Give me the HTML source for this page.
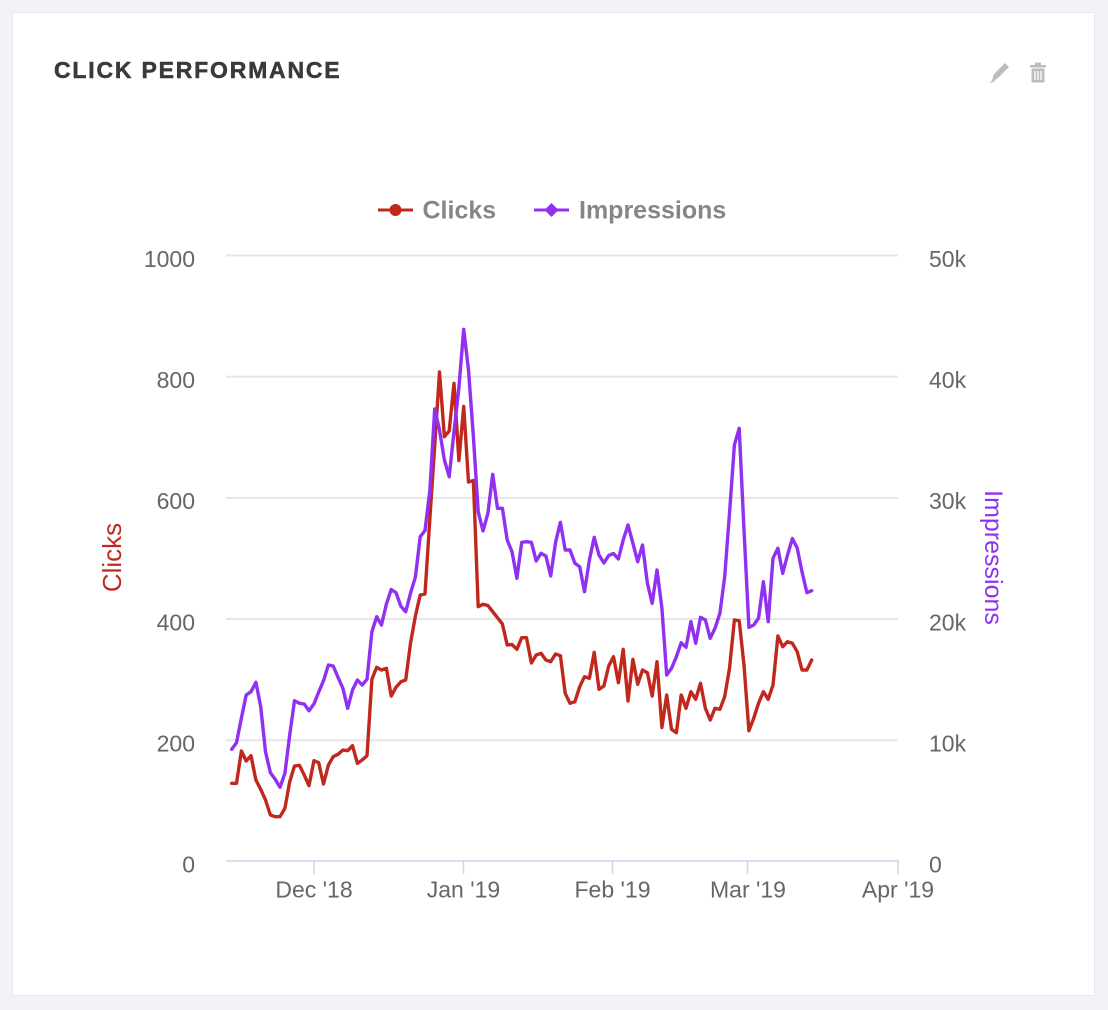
<!DOCTYPE html>
<html>
<head>
<meta charset="utf-8">
<style>
  html, body { margin:0; padding:0; }
  body { width:1108px; height:1010px; background:#f1f3f6; overflow:hidden; position:relative; }
  .card { position:absolute; left:12px; top:12px; width:1083px; height:984px; background:#fff; border:1px solid #e4e7eb; box-sizing:border-box; }
  svg { position:absolute; left:0; top:0; }
  text { font-family:"Liberation Sans", sans-serif; }
</style>
</head>
<body>
<div class="card"></div>
<svg width="1108" height="1010" viewBox="0 0 1108 1010" xmlns="http://www.w3.org/2000/svg">
  <!-- Title -->
  <text x="54" y="78" font-size="23" font-weight="bold" fill="#3a3a3a" stroke="#3a3a3a" stroke-width="0.5" letter-spacing="1.8">CLICK PERFORMANCE</text>

  <!-- pencil icon -->
  <g fill="#bdbdbd">
    <polygon points="992,80 994,74 1005,63 1009,67 998,78"/>
    <polygon points="990,83 992,80 998,78 993,82"/>
  </g>
  <!-- trash icon -->
  <g fill="#bdbdbd">
    <rect x="1030" y="65" width="16" height="2.5"/>
    <rect x="1035" y="62.5" width="6" height="3"/>
    <rect x="1031.5" y="68.5" width="13" height="14" rx="1"/>
  </g>
  <g stroke="#fff" stroke-width="1.3">
    <line x1="1035" y1="71" x2="1035" y2="80"/>
    <line x1="1038" y1="71" x2="1038" y2="80"/>
    <line x1="1041" y1="71" x2="1041" y2="80"/>
  </g>

  <!-- Legend -->
  <line x1="378" y1="210" x2="413" y2="210" stroke="#c0281e" stroke-width="3"/>
  <circle cx="395.5" cy="210" r="6" fill="#c0281e"/>
  <text x="422.5" y="218.3" font-size="25" font-weight="bold" fill="#868686">Clicks</text>
  <line x1="534" y1="210" x2="569" y2="210" stroke="#9030f0" stroke-width="3"/>
  <polygon points="551.5,203 558.5,210 551.5,217 544.5,210" fill="#9030f0"/>
  <text x="579" y="218.3" font-size="25" font-weight="bold" fill="#868686">Impressions</text>

  <!-- Gridlines -->
  <g stroke="#e6e6e6" stroke-width="2">
    <line x1="226" y1="255.5" x2="898" y2="255.5"/>
    <line x1="226" y1="376.7" x2="898" y2="376.7"/>
    <line x1="226" y1="497.9" x2="898" y2="497.9"/>
    <line x1="226" y1="619" x2="898" y2="619"/>
    <line x1="226" y1="740.2" x2="898" y2="740.2"/>
  </g>

  <!-- X axis -->
  <g stroke="#ccd6eb" stroke-width="1.5">
    <line x1="226" y1="861" x2="899" y2="861"/>
    <line x1="314" y1="861" x2="314" y2="874"/>
    <line x1="463.5" y1="861" x2="463.5" y2="874"/>
    <line x1="612.5" y1="861" x2="612.5" y2="874"/>
    <line x1="747.5" y1="861" x2="747.5" y2="874"/>
    <line x1="898" y1="861" x2="898" y2="874"/>
  </g>

  <!-- Left Y labels -->
  <g font-size="23" fill="#666666" text-anchor="end">
    <text x="195" y="267">1000</text>
    <text x="195" y="388">800</text>
    <text x="195" y="509">600</text>
    <text x="195" y="630.5">400</text>
    <text x="195" y="751.5">200</text>
    <text x="195" y="872.5">0</text>
  </g>
  <!-- Right Y labels -->
  <g font-size="23" fill="#666666" text-anchor="start">
    <text x="929" y="267">50k</text>
    <text x="929" y="388">40k</text>
    <text x="929" y="509">30k</text>
    <text x="929" y="630.5">20k</text>
    <text x="929" y="751.5">10k</text>
    <text x="929" y="872.5">0</text>
  </g>
  <!-- X labels -->
  <g font-size="23" fill="#666666" text-anchor="middle">
    <text x="314" y="897.5">Dec '18</text>
    <text x="463.5" y="897.5">Jan '19</text>
    <text x="612.5" y="897.5">Feb '19</text>
    <text x="748" y="897.5">Mar '19</text>
    <text x="898" y="897.5">Apr '19</text>
  </g>

  <!-- Axis titles -->
  <text transform="translate(121,557.5) rotate(-90)" text-anchor="middle" font-size="26" fill="#c0281e">Clicks</text>
  <text transform="translate(985,557.5) rotate(90)" text-anchor="middle" font-size="25" fill="#9030f0">Impressions</text>

  <!-- Series: Clicks -->
  <polyline fill="none" stroke="#c0281e" stroke-width="3.4" stroke-linejoin="round" stroke-linecap="round"
    points="231.7,783.3 236.5,783.3 241.4,751 246.2,761 251,755.7 255.9,780 260.7,789.3 265.5,800 270.4,815 275.2,816.7 280,816.7 284.9,808.3 289.7,781.7 294.5,766 299.4,765.3 304.2,775 309,785.7 313.9,760.7 318.7,762.7 323.5,784 328.4,765 333.2,756.7 338,754.3 342.9,750 347.7,750.7 352.5,745.7 357.4,763.3 362.2,760 367,755.7 371.9,679.3 376.7,667.3 381.5,670 386.4,668.3 391.2,696 396,687.3 400.9,681.7 405.7,680 410.5,643.3 415.4,616 420.2,595 425,594 429.9,518 434.7,446 439.5,372 444.4,436.7 449.2,431 454,383.3 458.9,460.5 463.7,406.5 468.5,482 473.4,480.5 478.2,606.7 483,604.3 487.9,605.5 492.7,611.7 497.5,617.7 502.4,624 507.2,645 512,644.5 516.9,649.3 521.7,637.7 526.5,637.7 531.4,663 536.2,655 541,653.3 545.9,660 550.7,661.7 555.5,654 560.4,655.7 565.2,693.3 570,703.3 574.9,701.7 579.7,686.7 584.5,676.7 589.4,678.3 594.2,652.3 599,689.3 603.9,686 608.7,666 613.5,656.7 618.4,682.7 623.2,649.3 628,701 632.9,659.3 637.7,684.3 642.5,670 647.4,672.7 652.2,696 657,661.7 661.9,727.5 666.7,695 671.5,729.3 676.4,732.7 681.2,695 686,708.3 690.9,691.7 695.7,699.3 700.5,683.3 705.4,708.3 710.2,720 715,708.3 719.9,709.3 724.7,696.7 729.5,668.3 734.4,620 739.2,620.7 744,665 748.9,730.7 753.7,718.3 758.5,703.3 763.4,691.7 768.2,699.3 773,685 777.9,636 782.7,646.7 787.5,641.7 792.4,643.3 797.2,651.7 802,670 806.9,670 811.7,660"/>

  <!-- Series: Impressions -->
  <polyline fill="none" stroke="#9030f0" stroke-width="3.4" stroke-linejoin="round" stroke-linecap="round"
    points="231.7,749.3 236.5,742.7 241.4,718 246.2,695 251,691.7 255.9,682.3 260.7,706.7 265.5,751.7 270.4,772.7 275.2,779.3 280,787.3 284.9,773.3 289.7,735 294.5,700.7 299.4,703.3 304.2,704 309,710.7 313.9,704 318.7,692 323.5,680.7 328.4,665 333.2,666 338,677.3 342.9,688.3 347.7,708.3 352.5,690 357.4,680 362.2,685 367,679.3 371.9,631.7 376.7,616.7 381.5,625 386.4,604 391.2,589.5 396,592.7 400.9,606.3 405.7,611.7 410.5,593.3 415.4,577 420.2,536.7 425,530.5 429.9,490 434.7,409 439.5,430 444.4,460 449.2,476.7 454,431.5 458.9,387.5 463.7,329.3 468.5,370 473.4,436.7 478.2,511.7 483,531 487.9,513.3 492.7,474.3 497.5,508.3 502.4,508.3 507.2,540 512,551.7 516.9,578.3 521.7,542.3 526.5,541.7 531.4,542.3 536.2,561 541,553.3 545.9,556 550.7,576 555.5,542.7 560.4,522.3 565.2,550 570,550 574.9,563.3 579.7,566.7 584.5,591.7 589.4,560 594.2,537.3 599,555 603.9,563 608.7,555.5 613.5,553.5 618.4,559 623.2,540 628,525 632.9,543.3 637.7,561.7 642.5,545 647.4,583.3 652.2,603.3 657,570 661.9,608 666.7,675 671.5,668.3 676.4,656.7 681.2,642.7 686,647.3 690.9,621.7 695.7,643.3 700.5,617.3 705.4,620 710.2,638.3 715,628.3 719.9,613.3 724.7,576.7 729.5,513.3 734.4,445 739.2,428.3 744,530 748.9,627.3 753.7,625 758.5,618.3 763.4,581.7 768.2,621.7 773,558.3 777.9,548.3 782.7,573.3 787.5,555 792.4,538.5 797.2,548 802,571.7 806.9,592.7 811.7,590.7"/>
</svg>
</body>
</html>
